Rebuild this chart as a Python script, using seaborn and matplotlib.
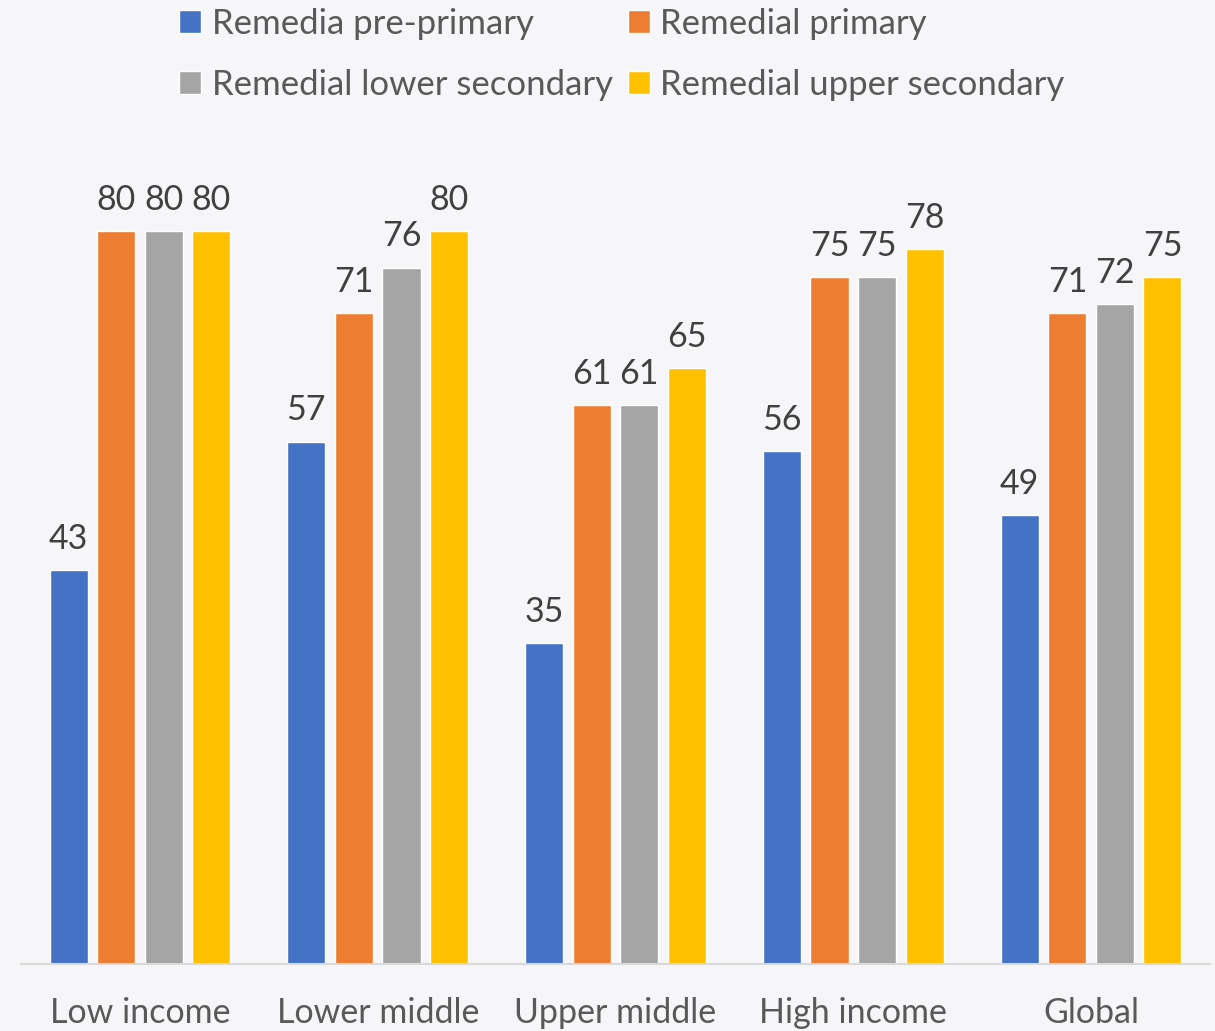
import matplotlib
matplotlib.use("Agg")
import matplotlib.pyplot as plt
import seaborn as sns
import pandas as pd

categories = ["Low income", "Lower middle", "Upper middle", "High income", "Global"]
series_names = ["Remedia pre-primary", "Remedial primary",
                "Remedial lower secondary", "Remedial upper secondary"]
pre_primary = [43, 57, 35, 56, 49]
primary = [80, 71, 61, 75, 71]
lower_secondary = [80, 76, 61, 75, 72]
upper_secondary = [80, 80, 65, 78, 75]
colors = ["#4472C4", "#ED7D31", "#A5A5A5", "#FFC000"]

rows = []
for name, vals in zip(series_names, [pre_primary, primary, lower_secondary, upper_secondary]):
    for c, v in zip(categories, vals):
        rows.append({"category": c, "series": name, "value": v})
df = pd.DataFrame(rows)

sns.set_theme(style="white")
plt.rcParams["font.family"] = ["Lato", "DejaVu Sans"]
bg = "#F6F6F8"
fig = plt.figure(figsize=(12.15, 10.31), dpi=100, facecolor=bg)
ax = fig.add_axes([21/1215, 67/1031, 1189/1215, 824.6/1031])
ax.set_facecolor(bg)

sns.barplot(data=df, x="category", y="value", hue="series", order=categories,
            hue_order=series_names, palette=colors, width=0.8, gap=0.2,
            saturation=1, ax=ax, legend=True)

for cont in ax.containers:
    ax.bar_label(cont, fmt="%d", padding=11, fontsize=24.5, color="#404040")

ax.set_ylim(0, 90)
ax.set_xlim(-0.5, 4.5)
ax.set_xlabel("")
ax.set_ylabel("")
ax.set_yticks([])
for s in ["top", "right", "left"]:
    ax.spines[s].set_visible(False)
ax.spines["bottom"].set_color("#D9D9D9")
ax.spines["bottom"].set_linewidth(1.5)
ax.tick_params(axis="x", length=0, pad=24, labelsize=24.5, labelcolor="#595959")

handles, labels = ax.get_legend_handles_labels()
ax.get_legend().remove()
order = [0, 2, 1, 3]
fig.legend([handles[i] for i in order], [labels[i] for i in order],
           loc="upper center", bbox_to_anchor=(622/1215, 1.023), ncol=2,
           frameon=False, fontsize=25, labelcolor="#595959", handlelength=0.63,
           handleheight=0.63, handletextpad=0.3, columnspacing=0.45, labelspacing=0.85)

fig.savefig("out.png", dpi=100, facecolor=bg)
